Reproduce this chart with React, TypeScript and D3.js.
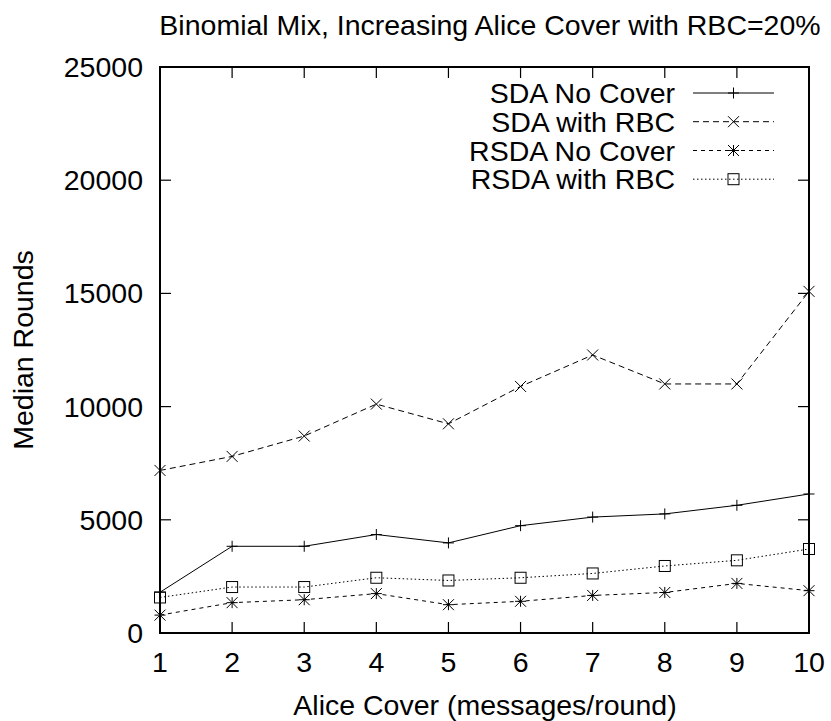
import React from "react";
import * as d3 from "d3";

const xValues = [1, 2, 3, 4, 5, 6, 7, 8, 9, 10];
const sdaNoCover = [1800, 3830, 3830, 4350, 3980, 4740, 5120, 5260, 5640, 6140];
const sdaWithRBC = [7180, 7800, 8700, 10110, 9240, 10890, 12280, 11000, 11000, 15090];
const rsdaNoCover = [790, 1340, 1470, 1740, 1250, 1400, 1660, 1790, 2190, 1870];
const rsdaWithRBC = [1570, 2030, 2030, 2440, 2320, 2440, 2630, 2960, 3210, 3710];
const seriesNames = ["SDA No Cover", "SDA with RBC", "RSDA No Cover", "RSDA with RBC"];
const yTicks = [0, 5000, 10000, 15000, 20000, 25000];

const W = 831, H = 721;
const L = 160, R = 809, T = 67, B = 633;
const font = "'Liberation Sans', Arial, sans-serif";
const FS = 28.5;

type Marker = "plus" | "cross" | "star" | "square";

function MarkerShape({ type, x, y }: { type: Marker; x: number; y: number }) {
  const s = 5.5;
  const st = { stroke: "#000", strokeWidth: 1, fill: "none" };
  if (type === "plus")
    return <path d={`M${x - s},${y}H${x + s}M${x},${y - s}V${y + s}`} {...st} />;
  if (type === "cross")
    return <path d={`M${x - s},${y - s}L${x + s},${y + s}M${x - s},${y + s}L${x + s},${y - s}`} {...st} />;
  if (type === "star")
    return (
      <path
        d={`M${x - s},${y}H${x + s}M${x},${y - s}V${y + s}M${x - s},${y - s}L${x + s},${y + s}M${x - s},${y + s}L${x + s},${y - s}`}
        {...st}
      />
    );
  return <rect x={x - s} y={y - s} width={2 * s} height={2 * s} {...st} />;
}

export default function App() {
  const x = d3.scaleLinear().domain([1, 10]).range([L, R]);
  const y = d3.scaleLinear().domain([0, 25000]).range([B, T]);
  const line = d3
    .line<number>()
    .x((_, i) => x(xValues[i]))
    .y((d) => y(d));

  const series: { data: number[]; dash: string; marker: Marker }[] = [
    { data: sdaNoCover, dash: "", marker: "plus" },
    { data: sdaWithRBC, dash: "6,4", marker: "cross" },
    { data: rsdaNoCover, dash: "4,4", marker: "star" },
    { data: rsdaWithRBC, dash: "1.5,2.5", marker: "square" },
  ];

  const legendY = [93, 121.7, 150.5, 179.2];

  return (
    <svg width={W} height={H} style={{ position: "absolute", left: 0, top: 0 }} fontFamily={font}>
      <rect width={W} height={H} fill="#fff" />
      <text x={490} y={35} textAnchor="middle" fontSize={FS}>
        Binomial Mix, Increasing Alice Cover with RBC=20%
      </text>
      {yTicks.map((t) => (
        <g key={"y" + t}>
          <line x1={L} x2={L + 11} y1={y(t)} y2={y(t)} stroke="#000" strokeWidth={1.2} />
          <line x1={R} x2={R - 11} y1={y(t)} y2={y(t)} stroke="#000" strokeWidth={1.2} />
          <text x={143} y={y(t) + 10} textAnchor="end" fontSize={FS}>
            {t}
          </text>
        </g>
      ))}
      {xValues.map((t) => (
        <g key={"x" + t}>
          <line x1={x(t)} x2={x(t)} y1={B} y2={B - 11} stroke="#000" strokeWidth={1.2} />
          <line x1={x(t)} x2={x(t)} y1={T} y2={T + 11} stroke="#000" strokeWidth={1.2} />
          <text x={x(t)} y={672} textAnchor="middle" fontSize={FS}>
            {t}
          </text>
        </g>
      ))}
      {series.map((s, i) => (
        <g key={i}>
          <path d={line(s.data) || ""} fill="none" stroke="#000" strokeWidth={1} strokeDasharray={s.dash || undefined} />
          {s.data.map((v, j) => (
            <MarkerShape key={j} type={s.marker} x={x(xValues[j])} y={y(v)} />
          ))}
        </g>
      ))}
      {series.map((s, i) => (
        <g key={"lg" + i}>
          <text x={675} y={legendY[i] + 10} textAnchor="end" fontSize={FS}>
            {seriesNames[i]}
          </text>
          <line x1={693} x2={774} y1={legendY[i]} y2={legendY[i]} stroke="#000" strokeWidth={1} strokeDasharray={s.dash || undefined} />
          <MarkerShape type={s.marker} x={733.5} y={legendY[i]} />
        </g>
      ))}
      <rect x={L} y={T} width={R - L} height={B - T} fill="none" stroke="#000" strokeWidth={2} />
      <text x={0} y={0} transform={`translate(33,${(T + B) / 2}) rotate(-90)`} textAnchor="middle" fontSize={FS}>
        Median Rounds
      </text>
      <text x={485} y={715} textAnchor="middle" fontSize={FS}>
        Alice Cover (messages/round)
      </text>
    </svg>
  );
}
